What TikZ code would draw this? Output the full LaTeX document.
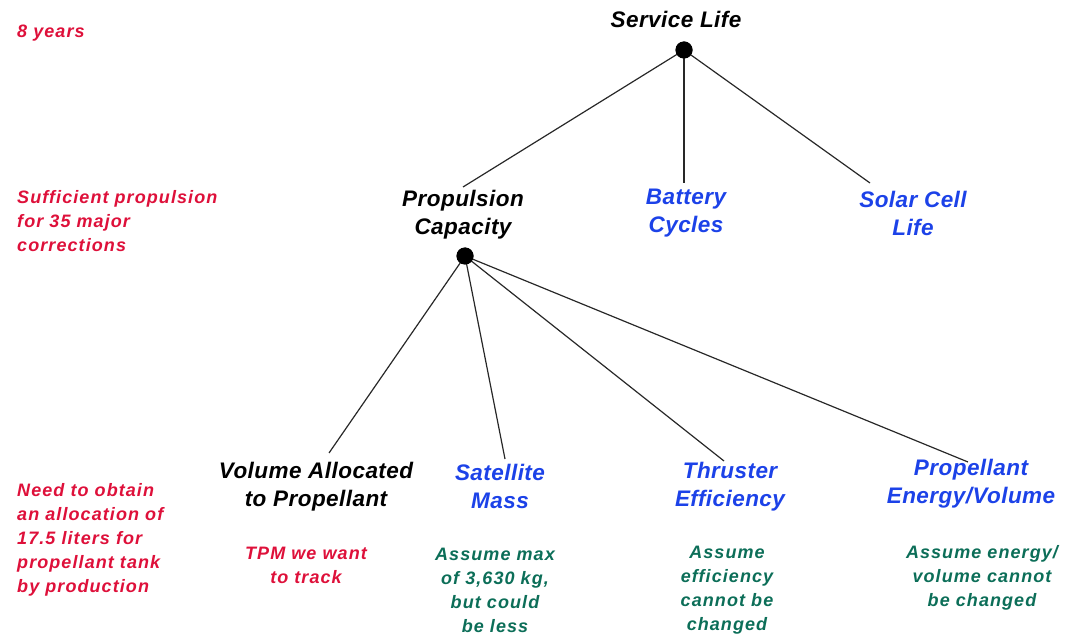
\documentclass[tikz,border=0pt]{standalone}
\usepackage{fontspec}
\setmainfont{Liberation Sans}
\newfontfamily\notefont[LetterSpace=6]{Liberation Sans}
\newfontfamily\mainfont[LetterSpace=2]{Liberation Sans}
\definecolor{cred}{RGB}{222,16,58}
\definecolor{cblue}{RGB}{28,66,232}
\definecolor{cgreen}{RGB}{12,110,88}
\definecolor{cline}{RGB}{40,40,40}
\tikzset{
  main/.style={align=center,inner sep=0pt,font=\mainfont\fontsize{22.5}{28}\selectfont\bfseries\itshape},
  blk/.style={main,text=black},
  blu/.style={main,text=cblue},
  note/.style={inner sep=0pt,font=\notefont\fontsize{18}{24}\selectfont\bfseries\itshape},
  rnote/.style={note,text=cred,align=left,anchor=west},
  gnote/.style={note,text=cgreen,align=center},
  dot/.style={circle,fill=black,inner sep=0pt,minimum size=17pt},
  link/.style={draw=cline,line width=1.2pt}
}
\begin{document}
\begin{tikzpicture}[x=1pt,y=-1pt]
\useasboundingbox (0,0) rectangle (1065,636);
% left notes
\node[rnote] (n1) at (17,33) {8 years};
\node[rnote] (n2) at (17,221) {Sufficient propulsion\\for 35 major\\corrections};
\node[rnote] (n3) at (17,539.5) {Need to obtain\\an allocation of\\17.5 liters for\\propellant tank\\by production};
% top
\node[blk] (sl) at (676,19) {Service Life};
\node[dot] (d1) at (684,50) {};
\node[blk] (pc) at (463,215) {Propulsion\\Capacity};
\node[blu] (bc) at (686,213.5) {Battery\\Cycles};
\node[blu] (sc) at (913,213.5) {Solar Cell\\Life};
\node[dot] (d2) at (465,256) {};
% bottom
\node[blk] (va) at (316,487) {Volume Allocated\\to Propellant};
\node[blu] (sm) at (500,486.5) {Satellite\\Mass};
\node[blu] (te) at (730,487) {Thruster\\Efficiency};
\node[blu] (pe) at (971,484) {Propellant\\Energy/Volume};
% sub notes
\node[note,text=cred,align=center] (t1) at (306,565) {TPM we want\\to track};
\node[gnote] (g1) at (495,590) {Assume max\\of 3,630 kg,\\but could\\be less};
\node[gnote] (g2) at (727,590) {Assume\\efficiency\\cannot be\\changed};
\node[gnote] (g3) at (982,578) {Assume energy/\\volume cannot\\be changed};
% connector ends
\coordinate (e1) at (463,187);
\coordinate (e2) at (684,183);
\coordinate (e3) at (870,183);
\coordinate (f1) at (329,453);
\coordinate (f2) at (505,459);
\coordinate (f3) at (724,461);
\coordinate (f4) at (968,462);
\draw[link] (d1.center) -- (e1);
\draw[link] (d1.center) -- (e2);
\draw[link] (d1.center) -- (e3);
\draw[link] (d2.center) -- (f1);
\draw[link] (d2.center) -- (f2);
\draw[link] (d2.center) -- (f3);
\draw[link] (d2.center) -- (f4);
\node[dot] at (d1) {};
\node[dot] at (d2) {};
\end{tikzpicture}
\end{document}
